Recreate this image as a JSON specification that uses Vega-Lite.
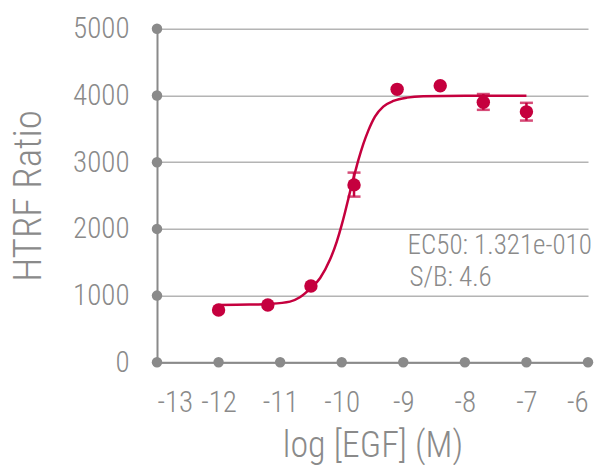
{
  "$schema": "https://vega.github.io/schema/vega-lite/v6.json",
  "width": 431,
  "height": 333.5,
  "autosize": "none",
  "padding": {"left": 157, "top": 28.8, "right": 24, "bottom": 102.7},
  "background": "white",
  "config": {
    "font": "Roboto Condensed",
    "view": {"stroke": null},
    "axis": {
      "labelColor": "#8a8a8a",
      "titleColor": "#8a8a8a",
      "domainColor": "#8a8a8a",
      "domainWidth": 2,
      "tickSize": 0,
      "labelFontSize": 29,
      "titleFontWeight": 300,
      "labelFontWeight": 300,
      "labelOverlap": false,
      "labelFont": "Roboto Condensed",
      "titleFont": "Roboto Condensed"
    }
  },
  "datasets": {
    "pts": [
      {"logc": -12.0, "ratio": 785},
      {"logc": -11.2, "ratio": 858},
      {"logc": -10.5, "ratio": 1145},
      {"logc": -9.8, "ratio": 2660},
      {"logc": -9.1, "ratio": 4092},
      {"logc": -8.4, "ratio": 4145},
      {"logc": -7.7, "ratio": 3898},
      {"logc": -7.0, "ratio": 3755}
    ],
    "err": [
      {"logc": -9.8, "lo": 2484, "hi": 2844},
      {"logc": -7.7, "lo": 3785, "hi": 4022},
      {"logc": -7.0, "lo": 3624, "hi": 3890}
    ],
    "curve": [
      {"logc": -12.0, "fit": 860},
      {"logc": -11.5, "fit": 865},
      {"logc": -11.2, "fit": 875},
      {"logc": -10.84, "fit": 910},
      {"logc": -10.68, "fit": 975},
      {"logc": -10.515, "fit": 1100},
      {"logc": -10.35, "fit": 1265},
      {"logc": -10.19, "fit": 1540},
      {"logc": -10.08, "fit": 1810},
      {"logc": -10.0, "fit": 2060},
      {"logc": -9.946, "fit": 2250},
      {"logc": -9.89, "fit": 2460},
      {"logc": -9.84, "fit": 2650},
      {"logc": -9.78, "fit": 2860},
      {"logc": -9.73, "fit": 3030},
      {"logc": -9.65, "fit": 3270},
      {"logc": -9.57, "fit": 3470},
      {"logc": -9.46, "fit": 3684},
      {"logc": -9.325, "fit": 3834},
      {"logc": -9.16, "fit": 3918},
      {"logc": -8.94, "fit": 3968},
      {"logc": -8.675, "fit": 3988},
      {"logc": -8.0, "fit": 3995},
      {"logc": -7.0, "fit": 3995}
    ],
    "axisdots": [
      {"x": -13, "y": 0}, {"x": -12, "y": 0}, {"x": -11, "y": 0}, {"x": -10, "y": 0},
      {"x": -9, "y": 0}, {"x": -8, "y": 0}, {"x": -7, "y": 0}, {"x": -6, "y": 0},
      {"x": -13, "y": 1000}, {"x": -13, "y": 2000}, {"x": -13, "y": 3000},
      {"x": -13, "y": 4000}, {"x": -13, "y": 5000}
    ],
    "notes": [
      {"x": -8.93, "y": 1624, "label": "EC50: 1.321e-010"},
      {"x": -8.9, "y": 1144, "label": "S/B: 4.6"}
    ]
  },
  "layer": [
    {
      "data": {"name": "curve"},
      "mark": {"type": "line", "color": "#C5003E", "strokeWidth": 2.5, "interpolate": "monotone"},
      "encoding": {
        "x": {
          "field": "logc", "type": "quantitative",
          "scale": {"domain": [-13, -6], "nice": false, "zero": false},
          "axis": {
            "values": [-13, -12, -11, -10, -9, -8, -7, -6],
            "labelExpr": "toString(datum.value)",
            "grid": false,
            "title": "log [EGF] (M)",
            "titleFontSize": 36,
            "labelPadding": 26,
            "titlePadding": 11
          }
        },
        "y": {
          "field": "fit", "type": "quantitative",
          "title": "HTRF Ratio",
          "scale": {"domain": [0, 5000], "nice": false},
          "axis": {
            "values": [0, 1000, 2000, 3000, 4000, 5000],
            "labelExpr": "toString(datum.value)",
            "grid": true,
            "gridColor": "#b4b4b4",
            "gridWidth": 1.5,
            "titleFontSize": 39,
            "labelPadding": 28,
            "titlePadding": 24
          }
        }
      }
    },
    {
      "data": {"name": "axisdots"},
      "mark": {"type": "point", "filled": true, "color": "#8a8a8a", "opacity": 1, "size": 110},
      "encoding": {
        "x": {"field": "x", "type": "quantitative"},
        "y": {"field": "y", "type": "quantitative", "title": "HTRF Ratio"}
      }
    },
    {
      "data": {"name": "err"},
      "mark": {
        "type": "errorbar",
        "color": "#C5003E",
        "thickness": 2.5,
        "ticks": {"size": 13, "thickness": 2.5, "color": "#C5003E"}
      },
      "encoding": {
        "x": {"field": "logc", "type": "quantitative"},
        "y": {"field": "lo", "type": "quantitative", "title": "HTRF Ratio"},
        "y2": {"field": "hi"}
      }
    },
    {
      "data": {"name": "pts"},
      "mark": {"type": "point", "filled": true, "color": "#C5003E", "opacity": 1, "size": 180},
      "encoding": {
        "x": {"field": "logc", "type": "quantitative"},
        "y": {"field": "ratio", "type": "quantitative", "title": "HTRF Ratio"}
      }
    },
    {
      "data": {"name": "notes"},
      "mark": {"type": "text", "align": "left", "baseline": "alphabetic", "fontSize": 27, "fontWeight": 300, "color": "#8a8a8a", "font": "Roboto Condensed"},
      "encoding": {
        "x": {"field": "x", "type": "quantitative"},
        "y": {"field": "y", "type": "quantitative"},
        "text": {"field": "label"}
      }
    }
  ]
}
